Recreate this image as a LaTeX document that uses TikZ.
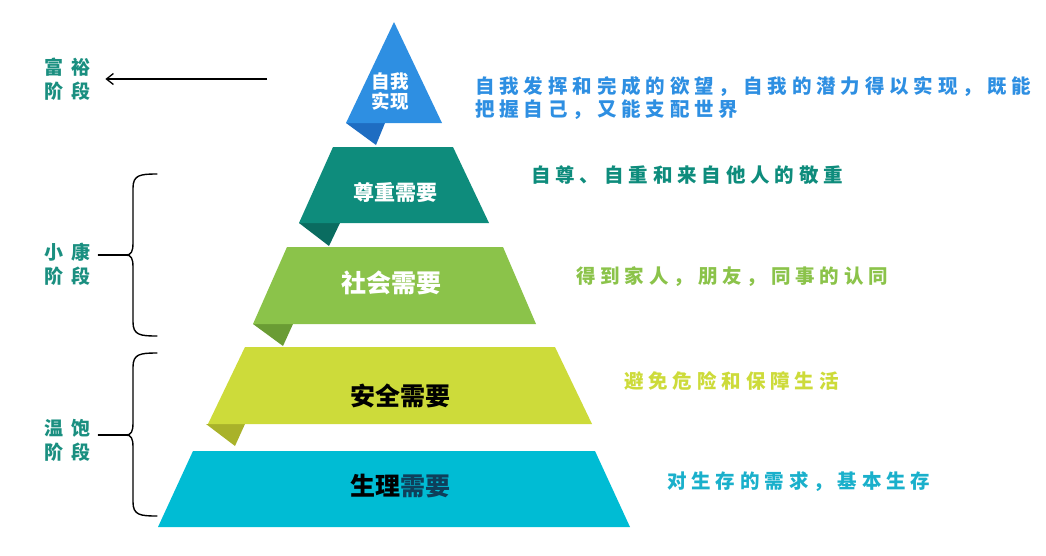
\documentclass[tikz,border=0pt]{standalone}
\usepackage{fontspec}
\usetikzlibrary{arrows.meta}
\newfontfamily\cjk{Noto Sans CJK SC}[BoldFont={Noto Sans CJK SC Black}]
\newfontfamily\cjkwide{Noto Sans CJK SC}[BoldFont={Noto Sans CJK SC Black},LetterSpace=25]
\newfontfamily\cjkstage{Noto Sans CJK SC}[BoldFont={Noto Sans CJK SC Black},LetterSpace=42]
\definecolor{zxblue}{HTML}{2E8FE2}
\definecolor{zxbluedk}{HTML}{1E6DC2}
\definecolor{zzteal}{HTML}{0E8C7C}
\definecolor{zztealdk}{HTML}{0A6C60}
\definecolor{shgreen}{HTML}{8BC34A}
\definecolor{shgreendk}{HTML}{6A9C34}
\definecolor{aqlime}{HTML}{CDDB3A}
\definecolor{aqlimedk}{HTML}{A9B22A}
\definecolor{slcyan}{HTML}{00BCD4}
\definecolor{slcyantx}{HTML}{1AB0CB}
\definecolor{stagetx}{HTML}{1A8F80}
\definecolor{slneed}{HTML}{0F3F5A}
\tikzset{
  lvltext/.style={inner sep=0pt,font=\cjk\bfseries\fontsize{25}{25}\selectfont},
  desctext/.style={inner sep=0pt,anchor=west,align=left,font=\cjkwide\bfseries\fontsize{19.5}{23}\selectfont},
  stagetext/.style={inner sep=0pt,anchor=west,align=left,text=stagetx,font=\cjkstage\bfseries\fontsize{19}{24}\selectfont},
  bracket/.style={line width=1.4pt,line cap=round},
}
\begin{document}
\begin{tikzpicture}[x=1pt,y=-1pt,>={Straight Barb[length=7pt,width=11pt]}]
  \useasboundingbox (0,0) rectangle (1046,555);
  % folded corners
  \fill[zxbluedk] (346,123) -- (385,123) -- (376,145) -- cycle;
  \fill[zztealdk] (299,223) -- (340,223) -- (329,246) -- cycle;
  \fill[shgreendk] (253,324) -- (293,324) -- (283,346) -- cycle;
  \fill[aqlimedk] (206,424) -- (245,424) -- (235,446) -- cycle;
  % pyramid layers
  \fill[zxblue] (394,22) -- (442,123) -- (346,123) -- cycle;
  \fill[zzteal] (333,147) -- (453,147) -- (489,223) -- (299,223) -- cycle;
  \fill[shgreen] (287,247) -- (503,247) -- (536,324) -- (253,324) -- cycle;
  \fill[aqlime] (245,347) -- (555,347) -- (592,424) -- (208,424) -- cycle;
  \fill[slcyan] (193,451) -- (595,451) -- (630,527) -- (158,527) -- cycle;
  % layer names
  \node[lvltext,align=center,text=white,font=\cjk\bfseries\fontsize{18.5}{20}\selectfont] (zx) at (390,91.5) {自我\\实现};
  \node[lvltext,text=white,font=\cjk\bfseries\fontsize{21}{21}\selectfont] (zz) at (395,192) {尊重需要};
  \node[lvltext,text=white] (sh) at (391,282.5) {社会需要};
  \node[lvltext] (aq) at (400,396) {安全需要};
  \node[lvltext] (sl) at (400,486) {生理\textcolor{slneed}{需要}};
  % descriptions
  \node[desctext,text=zxblue] (dzx) at (475,98.5) {自我发挥和完成的欲望，自我的潜力得以实现，既能\\把握自己，又能支配世界};
  \node[desctext,text=zzteal] (dzz) at (531,175) {自尊、自重和来自他人的敬重};
  \node[desctext,text=shgreen] (dsh) at (576,277) {得到家人，朋友，同事的认同};
  \node[desctext,text=aqlime] (daq) at (624,381) {避免危险和保障生活};
  \node[desctext,text=slcyantx] (dsl) at (667,482) {对生存的需求，基本生存};
  % stages
  \node[stagetext] (fy) at (44,79) {富裕\\阶段};
  \node[stagetext] (xk) at (44,264) {小康\\阶段};
  \node[stagetext] (wb) at (44,440) {温饱\\阶段};
  \coordinate (fyfrom) at (267,79);
  \draw[->,line width=1.3pt,shorten >=15pt] (fyfrom) -- (fy);
  % braces
  \coordinate (xktip) at (126,255);
  \coordinate (wbtip) at (126,435);
  \draw[bracket] (157,174) .. controls (140,174) and (133,175) .. (133,188) -- (133,243)
    .. controls (133,252) and (131,255) .. (xktip) .. controls (131,255) and (133,258) .. (133,267)
    -- (133,322) .. controls (133,335) and (140,336) .. (157,336);
  \draw[bracket] (157,353) .. controls (140,353) and (133,354) .. (133,367) -- (133,423)
    .. controls (133,432) and (131,435) .. (wbtip) .. controls (131,435) and (133,438) .. (133,447)
    -- (133,502) .. controls (133,515) and (140,516) .. (157,516);
  \draw[bracket,shorten <=8pt] (xk.east) ++(0,-9) -- (xktip);
  \draw[bracket,shorten <=8pt] (wb.east) ++(0,-5) -- (wbtip);
\end{tikzpicture}
\end{document}
